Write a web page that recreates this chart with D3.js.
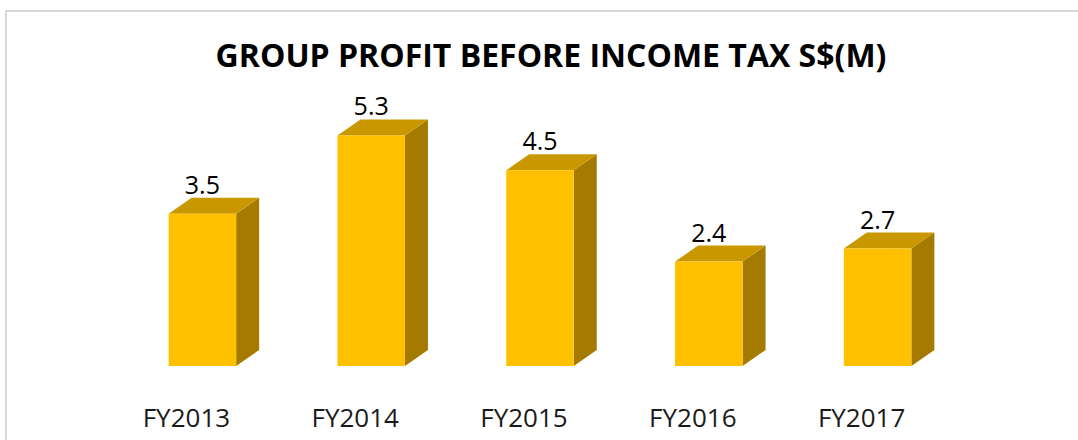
<!DOCTYPE html>
<html>
<head>
<meta charset="UTF-8">
<title>Group Profit</title>
<script src="https://cdn.jsdelivr.net/npm/d3@7"></script>
<style>
  body { margin: 0; background: #fff; }
</style>
</head>
<body>
<script>
var years = ["FY2013", "FY2014", "FY2015", "FY2016", "FY2017"];
var profit = [3.5, 5.3, 4.5, 2.4, 2.7];
var title = "GROUP PROFIT BEFORE INCOME TAX S$(M)";

var W = 1078, H = 440;
var depthX = 23, depthY = 16;

var svg = d3.select("body").append("svg")
    .attr("width", W).attr("height", H);

// chart border (runs off right and bottom)
svg.append("rect")
    .attr("x", 6).attr("y", 11)
    .attr("width", W + 20).attr("height", H + 20)
    .attr("fill", "#fff").attr("stroke", "#d9d9d9").attr("stroke-width", 2);

svg.append("text")
    .attr("x", 551).attr("y", 67)
    .attr("text-anchor", "middle")
    .style("font-family", "'Open Sans', sans-serif")
    .style("font-weight", "bold")
    .style("font-size", "32px")
    .attr("fill", "#000")
    .text(title);

var x = d3.scaleBand().domain(years).range([118, 962]).paddingInner(0.6).paddingOuter(0.3);
var y = d3.scaleLinear().domain([0, 6]).range([366, 105]);

var g = svg.append("g").selectAll("g").data(years).enter().append("g");

// side face
g.append("path")
    .attr("fill", "#a47b00")
    .attr("d", function (d, i) {
        var x1 = x(d) + x.bandwidth(), y0 = y(0), y1 = y(profit[i]);
        return "M" + x1 + "," + y1 + "L" + (x1 + depthX) + "," + (y1 - depthY) +
            "L" + (x1 + depthX) + "," + (y0 - depthY) + "L" + x1 + "," + y0 + "Z";
    });

// top face
g.append("path")
    .attr("fill", "#c99700")
    .attr("d", function (d, i) {
        var x0 = x(d), x1 = x(d) + x.bandwidth(), y1 = y(profit[i]);
        return "M" + x0 + "," + y1 + "L" + (x0 + depthX) + "," + (y1 - depthY) +
            "L" + (x1 + depthX) + "," + (y1 - depthY) + "L" + x1 + "," + y1 + "Z";
    });

// front face
g.append("rect")
    .attr("fill", "#ffc000")
    .attr("x", function (d) { return x(d); })
    .attr("y", function (d, i) { return y(profit[i]); })
    .attr("width", x.bandwidth())
    .attr("height", function (d, i) { return y(0) - y(profit[i]); });

g.append("text")
    .attr("x", function (d) { return x(d) + x.bandwidth() / 2; })
    .attr("y", function (d, i) { return y(profit[i]) - depthY - 4; })
    .attr("text-anchor", "middle")
    .style("font-family", "'Open Sans', sans-serif")
    .style("font-size", "25px")
    .attr("fill", "#000")
    .text(function (d, i) { return profit[i].toFixed(1); });

g.append("text")
    .attr("x", function (d) { return x(d) + x.bandwidth() / 2 - 16; })
    .attr("y", 427)
    .attr("text-anchor", "middle")
    .style("font-family", "'Open Sans', sans-serif")
    .style("font-size", "26px")
    .attr("fill", "#1a1a1a")
    .text(function (d) { return d; });
</script>
</body>
</html>
